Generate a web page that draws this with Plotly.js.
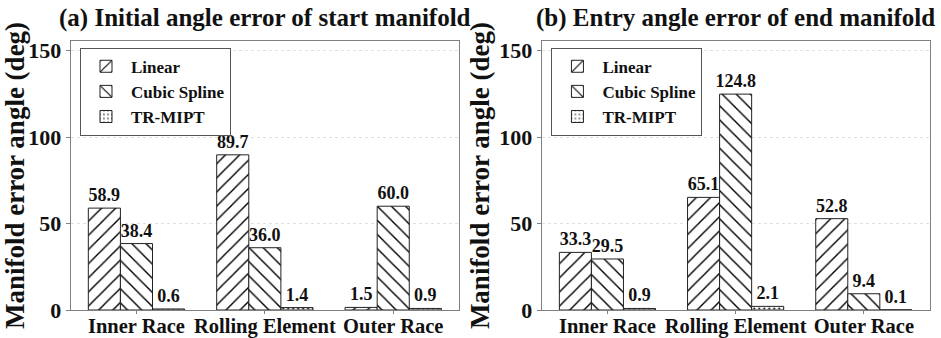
<!DOCTYPE html>
<html>
<head>
<meta charset="utf-8">
<script src="https://cdn.plot.ly/plotly-3.0.1.min.js"></script>
<style>html,body{margin:0;padding:0;background:#fff;}#chart{width:941px;height:338px;}</style>
</head>
<body>
<div id="chart"></div>
<script>
const categories = ["Inner Race", "Rolling Element", "Outer Race"];
const seriesNames = ["Linear", "Cubic Spline", "TR-MIPT"];
const startLinear = [58.9, 89.7, 1.5];
const startCubic = [38.4, 36.0, 60.0];
const startTR = [0.6, 1.4, 0.9];
const endLinear = [33.3, 65.1, 52.8];
const endCubic = [29.5, 124.8, 9.4];
const endTR = [0.9, 2.1, 0.1];
const titleA = "(a) Initial angle error of start manifold";
const titleB = "(b) Entry angle error of end manifold";
const yTitle = "Manifold error angle (deg)";
const yTicks = [0, 50, 100, 150];

const FONT = "Liberation Serif";
const patterns = ["/", "\\", "."];

function mk(vals, i, xa, ya, lg) {
  return {
    type: "bar", x: categories, y: vals, name: seriesNames[i],
    xaxis: xa, yaxis: ya, legend: lg,
    marker: {
      color: "white",
      line: {color: "#222", width: 1},
      pattern: {shape: patterns[i], fgcolor: "#000", fgopacity: 1, bgcolor: "white",
                size: i === 2 ? 5 : 10, solidity: i === 2 ? 0.12 : 0.14, fillmode: "overlay"}
    },
    text: vals.map(v => v.toFixed(1)), textposition: "outside", constraintext: "none", cliponaxis: false,
    textfont: {family: FONT, size: 18, color: "#111", weight: "bold"},
    hoverinfo: "x+y"
  };
}
const data = [
  mk(startLinear, 0, "x", "y", "legend"),
  mk(startCubic, 1, "x", "y", "legend"),
  mk(startTR, 2, "x", "y", "legend"),
  mk(endLinear, 0, "x2", "y2", "legend2"),
  mk(endCubic, 1, "x2", "y2", "legend2"),
  mk(endTR, 2, "x2", "y2", "legend2")
];

function xax(dom, anchor) {
  return {
    domain: dom, anchor: anchor, range: [-0.5125, 2.5125],
    showline: true, mirror: true, linecolor: "#808080", linewidth: 1,
    ticks: "outside", ticklen: 3, tickcolor: "#808080", ticklabelstandoff: -6,
    tickfont: {family: FONT, size: 20.5, color: "#111", weight: "bold"},
    showgrid: false, zeroline: false, fixedrange: true
  };
}
function yax(anchor) {
  return {
    anchor: anchor, domain: [0, 1], range: [0, 155.5],
    tickvals: yTicks, ticktext: yTicks.map(String),
    showline: true, mirror: true, linecolor: "#808080", linewidth: 1,
    ticks: "outside", ticklen: 4, tickcolor: "#808080",
    tickfont: {family: FONT, size: 22, color: "#111", weight: "bold"},
    showgrid: true, gridcolor: "#e0e0e0", griddash: "dot", gridwidth: 1,
    zeroline: false, fixedrange: true,
    title: {text: yTitle, font: {family: FONT, size: 27, color: "#111", weight: "bold"}, standoff: 1}
  };
}
function leg(x) {
  return {
    x: x, y: 0.975, xref: "paper", yref: "paper", xanchor: "left", yanchor: "top",
    bgcolor: "white", bordercolor: "#555", borderwidth: 1,
    font: {family: FONT, size: 17, color: "#111", weight: "bold"},
    itemwidth: 40, tracegroupgap: 4
  };
}
const layout = {
  width: 941, height: 338,
  margin: {l: 0, r: 0, t: 41, b: 28},
  paper_bgcolor: "white", plot_bgcolor: "white",
  barmode: "group", bargap: 0.25, bargroupgap: 0,
  xaxis: xax([0.0751, 0.4878], "y"),
  yaxis: yax("x"),
  xaxis2: xax([0.5757, 0.9878], "y2"),
  yaxis2: yax("x2"),
  legend: leg(0.085),
  legend2: leg(0.586),
  annotations: [
    {text: titleA, xref: "paper", yref: "paper", x: 0.2815, y: 1, xanchor: "center", yanchor: "bottom", yshift: 7, showarrow: false,
     font: {family: FONT, size: 25, color: "#111", weight: "bold"}},
    {text: titleB, xref: "paper", yref: "paper", x: 0.7818, y: 1, xanchor: "center", yanchor: "bottom", yshift: 7, showarrow: false,
     font: {family: FONT, size: 25, color: "#111", weight: "bold"}}
  ],
  showlegend: true
};
Plotly.newPlot("chart", data, layout, {displayModeBar: false, staticPlot: true});
</script>
</body>
</html>
